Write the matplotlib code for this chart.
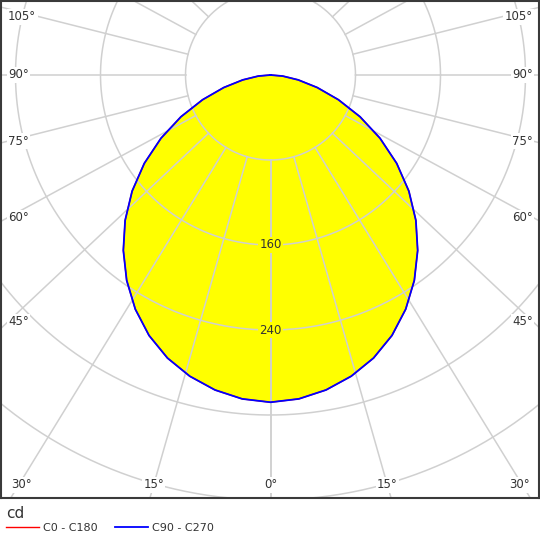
import numpy as np
import matplotlib
matplotlib.use('Agg')
import matplotlib.pyplot as plt

# luminous intensity in cd, every 5 deg (0 = nadir, 90 = horizontal)
gamma = [0, 5, 10, 15, 20, 25, 30, 35, 40, 45, 50, 55, 60, 65, 70, 75, 80, 85, 90]
c0_c180 = [308, 306, 301, 293.5, 283.5, 270.5, 254.5, 236, 215.5, 193.5,
           170, 145, 119, 93, 68, 45.5, 26.5, 11.5, 0]
c90_c270 = [308, 306, 301, 293.5, 283.5, 270.5, 254.5, 236, 215.5, 193.5,
            170, 145, 119, 93, 68, 45.5, 26.5, 11.5, 0]

# grid
grid_circles = [80, 160, 240, 320, 400, 480]
circle_labels = [160, 240]
grid_angles = [0, 15, 30, 45, 60, 75, 90, 105, 120, 135, 150, 165, 180]
angle_labels = [0, 15, 30, 45, 60, 75, 90, 105]

series_names = ['C0 - C180', 'C90 - C270']
series_colors = ['#ff0000', '#0000ff']
series_widths = [1.0, 1.3]

txt_col = '#333333'
grid_col = '#d0d0d0'

# page layout in pixels (540 x 535 image)
W, H = 540, 535
px_per_cd = 1.0625
cx, cy = 270.5, 75          # pole of the diagram
fl, fr, ft, fb = 1, 539, 1, 498   # frame edges
squash = 0.94               # the radial grid lines in the original are drawn a little flattened

fig = plt.figure(figsize=(W / 100, H / 100), dpi=100)
ax = fig.add_axes([fl / W, 1 - fb / H, (fr - fl) / W, (fb - ft) / H])
ax.set_xlim((fl - cx) / px_per_cd, (fr - cx) / px_per_cd)
ax.set_ylim(-(fb - cy) / px_per_cd, (cy - ft) / px_per_cd)
ax.set_xticks([])
ax.set_yticks([])
for s in ax.spines.values():
    s.set_color('#3a3a3a')
    s.set_linewidth(1.5)


def to_xy(angles, values, side=1):
    a = np.radians(angles)
    v = np.asarray(values, dtype=float)
    return side * v * np.sin(a), -v * np.cos(a)


def full_curve(values):
    # mirror the half curve to get both halves of the plane
    xl, yl = to_xy(gamma[::-1], values[::-1], -1)
    xr, yr = to_xy(gamma[1:], values[1:], 1)
    return np.concatenate([xl, xr]), np.concatenate([yl, yr])


def line_dir(a):
    # direction of a radial grid line as drawn in the original
    ar = np.radians(a)
    d = np.array([np.sin(ar), -np.cos(ar) * squash])
    return d / np.hypot(*d)


# yellow fill under the curves
x, y = full_curve(c90_c270)
ax.fill(x, y, color='#ffff00', zorder=1, lw=0)

# grid circles
t = np.linspace(0, 2 * np.pi, 721)
for r in grid_circles:
    ax.plot(r * np.cos(t), r * np.sin(t), color=grid_col, lw=1.1, zorder=2)

# radial lines, starting from the first circle
for a in grid_angles:
    dx, dy = line_dir(a)
    for side in (-1, 1):
        r0, r1 = grid_circles[0], 700
        ax.plot([side * dx * r0, side * dx * r1], [dy * r0, dy * r1], color=grid_col, lw=1.1, zorder=2)

# the two C-planes
lines = []
for vals, name, col, lw in zip([c0_c180, c90_c270], series_names, series_colors, series_widths):
    x, y = full_curve(vals)
    ln, = ax.plot(x, y, color=col, lw=lw, zorder=4, label=name)
    lines.append(ln)

# cd labels on the circles
for r in circle_labels:
    ax.text(0, -r, str(r), ha='center', va='center', fontsize=8.5, color=txt_col, zorder=5,
            bbox=dict(facecolor='#ffff00', edgecolor='none', pad=1.0))

# angle labels along the frame
side_x = (cx - 8) / px_per_cd       # left edge of the side labels
bot_y = (485 - cy) / px_per_cd
top_y = (cy - 17) / px_per_cd
max_bx = 249 / px_per_cd
lbl_box = dict(facecolor='white', edgecolor='none', pad=1.0)
for a in angle_labels:
    dx, dy = line_dir(a)
    sides = (1,) if a == 0 else (-1, 1)
    for side in sides:
        if dx < 1e-9 or side_x * dy / dx < -bot_y:
            # line leaves through the bottom row of labels
            lx = min(bot_y * dx / -dy, max_bx)
            ax.text(side * lx, -bot_y, f'{a}°', ha='center', va='center', fontsize=8.5,
                    color=txt_col, zorder=5, bbox=lbl_box)
        else:
            ly = min(side_x * dy / dx, top_y)
            ax.text(side * side_x, ly, f'{a}°', ha='left' if side < 0 else 'right', va='center',
                    fontsize=8.5, color=txt_col, zorder=5, bbox=lbl_box)

# legend under the frame
leg = fig.legend(handles=lines, loc='upper left', bbox_to_anchor=(6 / W, 1 - 506 / H),
                 ncol=2, frameon=False, fontsize=8, title='cd', title_fontsize=11,
                 alignment='left', handlelength=3.0, handletextpad=0.35, columnspacing=1.5,
                 borderpad=0, borderaxespad=0, labelspacing=0.2)
leg.get_title().set_color(txt_col)
for tx in leg.get_texts():
    tx.set_color(txt_col)

fig.savefig('out.png', dpi=100)
